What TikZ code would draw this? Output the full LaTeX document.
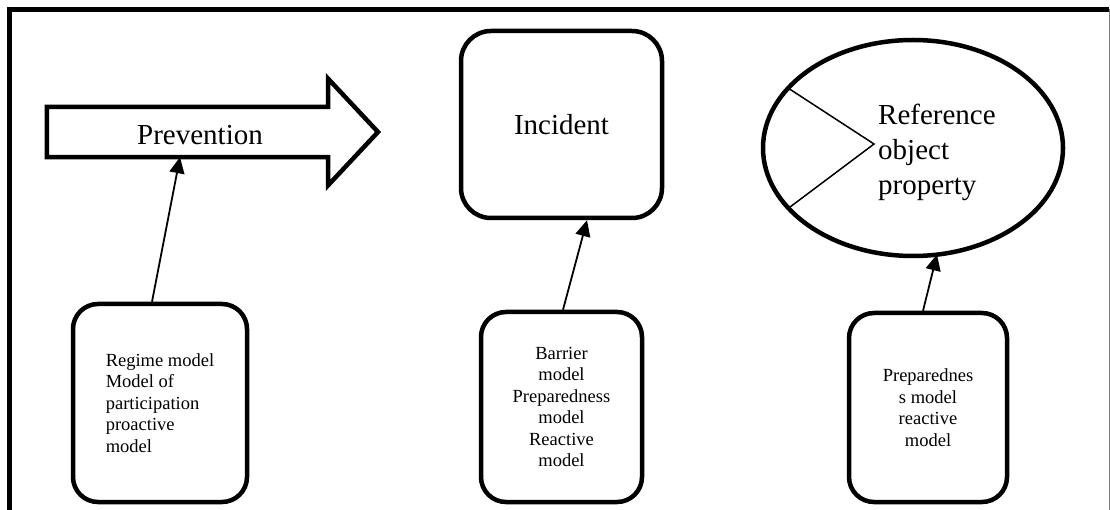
\documentclass[tikz,border=0pt]{standalone}
\usepackage{fontspec}
\setmainfont{Liberation Serif}
\usetikzlibrary{arrows.meta,shapes.geometric,calc}
\tikzset{
  thick line/.style={line width=4.5pt},
  bigtext/.style={font=\fontsize{29}{35}\selectfont},
  smalltext/.style={font=\fontsize{18.5}{21.5}\selectfont},
  modelbox/.style={draw, thick line, rounded corners=25pt, inner sep=0pt, smalltext},
  link/.style={line width=1.8pt, -{Triangle[length=16pt,width=15pt]}},
}
\begin{document}
\begin{tikzpicture}[x=1pt,y=-1pt]
\useasboundingbox (0,0) rectangle (1110,510);
% frame
\draw[thick line] (9.5,510) -- (9.5,9.5) -- (1109,9.5);
\draw[line width=1pt, gray] (1109.3,9.5) -- (1109.3,510);
% prevention arrow
\node[inner sep=0pt, minimum width=281pt, minimum height=50pt] (prev) at (187.5,132) {};
\draw[thick line, line join=miter]
  (prev.north west) -- (prev.north east) -- ++(0,-28) -- (378,132)
  -- ($(prev.south east)+(0,28)$) -- (prev.south east) -- (prev.south west) -- cycle;
\node[bigtext, inner sep=0pt] (prevlabel) at (200,135) {Prevention};
% incident
\node[draw, thick line, rounded corners=30pt, inner sep=0pt,
      minimum width=201pt, minimum height=187pt, bigtext] (inc) at (561.5,124.5) {Incident};
% reference ellipse
\node[draw, thick line, ellipse, inner sep=0pt,
      minimum width=300pt, minimum height=216pt] (ref) at (913,148) {};
\draw[line width=1.5pt] (788,88) -- (874,144) -- (790,207);
\node[bigtext, inner sep=0pt, align=left, anchor=west] (reflabel) at (878,152)
  {Reference\\object\\property};
% model boxes
\node[modelbox, align=left, minimum width=174pt, minimum height=198pt] (b1) at (160,403)
  {Regime model\\Model of\\participation\\proactive\\model};
\node[modelbox, align=center, minimum width=161pt, minimum height=190pt] (b2) at (561.5,407)
  {Barrier\\model\\Preparedness\\model\\Reactive\\model};
\node[modelbox, align=center, minimum width=158pt, minimum height=189pt] (b3) at (928,407.5)
  {Preparednes\\s model\\reactive\\model};
% links
\draw[link] ([xshift=-8pt]b1.north) -- ([xshift=-7.5pt]prev.south);
\draw[link] ([xshift=1.5pt]b2.north) -- ([xshift=25.5pt]inc.south);
\draw[link] ([xshift=-5pt]b3.north) -- (937,254.5);
\end{tikzpicture}
\end{document}
